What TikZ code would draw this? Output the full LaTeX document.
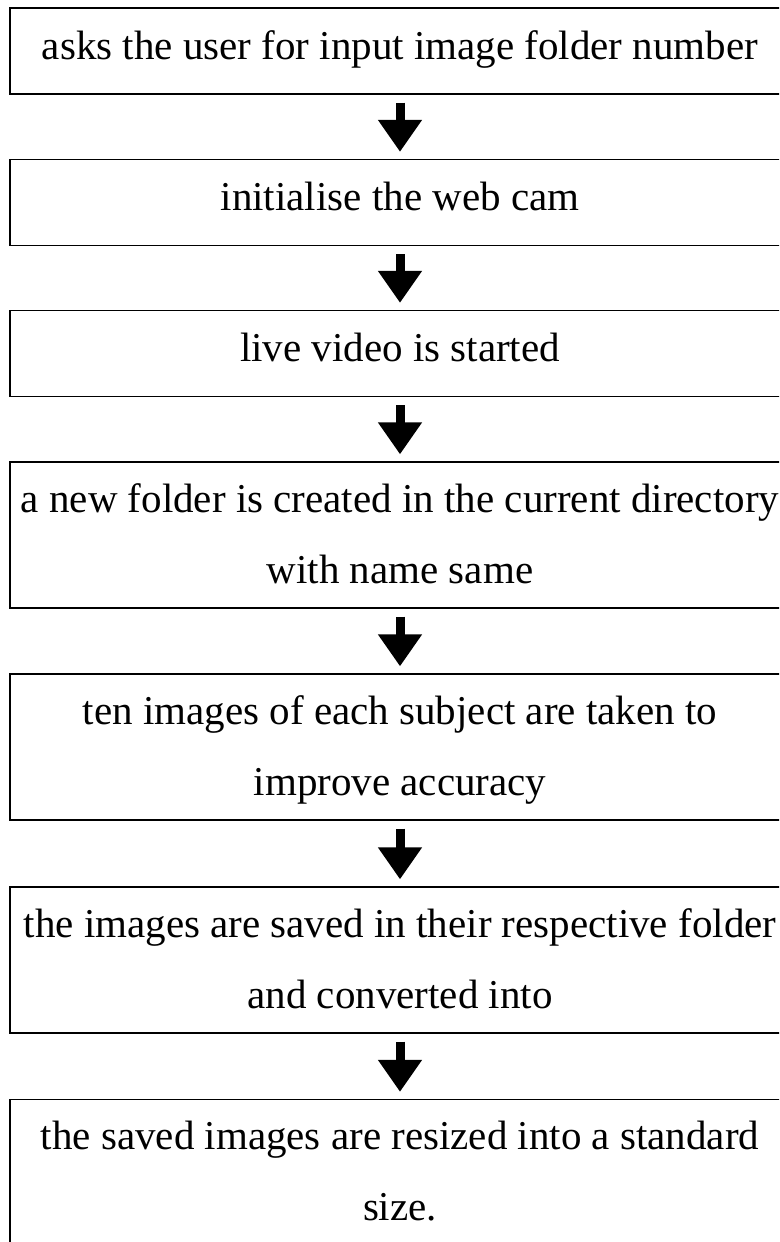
\documentclass[tikz,border=0pt]{standalone}
\usepackage{fontspec}
\setmainfont{Liberation Serif}
\usetikzlibrary{arrows.meta}
\begin{document}
\begin{tikzpicture}[x=1pt,y=-1pt,
  box/.style={draw, line width=1.3pt, rectangle, minimum width=780pt, inner sep=0pt,
    align=center, font=\fontsize{41}{71}\selectfont},
  one/.style={box, minimum height=86pt, text height=28pt, text depth=12pt},
  two/.style={box, minimum height=146pt, text height=99pt, text depth=3pt},
  flow/.style={line width=9pt, -{Triangle[width=42pt,length=32pt]}, shorten <=8pt, shorten >=7pt}]
\useasboundingbox (0,0) rectangle (779,1242);
\clip (0,0) rectangle (779,1242);
\node[one] (b1) at (400,51) {asks the user for input image folder number};
\node[one] (b2) at (400,202.5) {initialise the web cam};
\node[one] (b3) at (400,353.5) {live video is started};
\node[two] (b4) at (400,535) {a new folder is created in the current directory\\with name same};
\node[two] (b5) at (400,747) {ten images of each subject are taken to\\improve accuracy};
\node[two] (b6) at (400,960) {the images are saved in their respective folder\\and converted into};
\node[two] (b7) at (400,1172.5) {the saved images are resized into a standard\\size.};
\draw[flow] (b1.south) -- (b2.north);
\draw[flow] (b2.south) -- (b3.north);
\draw[flow] (b3.south) -- (b4.north);
\draw[flow] (b4.south) -- (b5.north);
\draw[flow] (b5.south) -- (b6.north);
\draw[flow] (b6.south) -- (b7.north);
\end{tikzpicture}
\end{document}
